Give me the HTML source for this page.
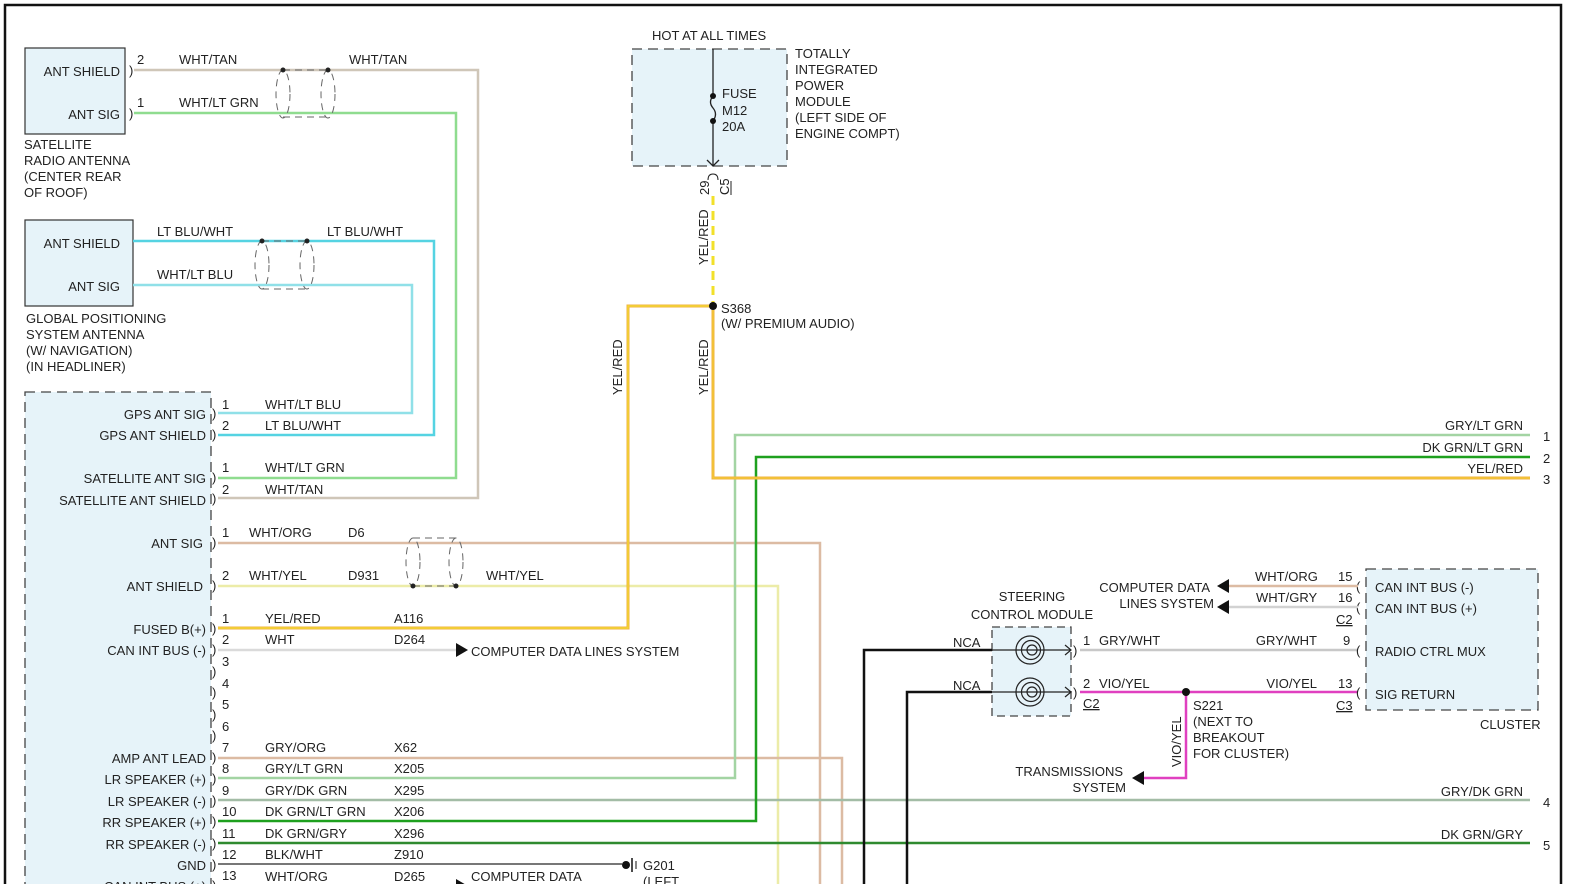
<!DOCTYPE html>
<html><head><meta charset="utf-8"><style>
html,body{margin:0;padding:0;background:#fff;}
svg{display:block;}
text{font-family:"Liberation Sans",Arial,sans-serif;font-size:13px;fill:#222;}
.r{text-anchor:end;}
</style></head><body>
<svg width="1569" height="884" viewBox="0 0 1569 884" xmlns="http://www.w3.org/2000/svg">
<rect x="5" y="5" width="1556" height="890" fill="#fff" stroke="#111" stroke-width="2.5"/>

<!-- Satellite antenna -->
<rect x="25" y="48" width="100" height="86" fill="#e6f3f9" stroke="#333" stroke-width="1.2"/>
<text class="r" x="120" y="76">ANT SHIELD</text>
<text class="r" x="120" y="119">ANT SIG</text>
<text x="129" y="75">)</text><text x="129" y="118">)</text>
<text x="137" y="64">2</text><text x="137" y="107">1</text>
<text x="24" y="149">SATELLITE</text><text x="24" y="165">RADIO ANTENNA</text><text x="24" y="181">(CENTER REAR</text><text x="24" y="197">OF ROOF)</text>
<polyline points="134,70 478,70 478,498 218,498" fill="none" stroke="#cfc6b8" stroke-width="2.5"/>
<polyline points="134,113 456,113 456,478 218,478" fill="none" stroke="#8fdc8f" stroke-width="2.5"/>
<text x="179" y="64">WHT/TAN</text><text x="349" y="64">WHT/TAN</text><text x="179" y="107">WHT/LT GRN</text>
<g fill="none" stroke="#666" stroke-dasharray="7,5">
<ellipse cx="283" cy="94" rx="7" ry="24"/><ellipse cx="328" cy="94" rx="7" ry="24"/>
<line x1="283" y1="70" x2="328" y2="70"/><line x1="283" y1="117" x2="328" y2="117"/>
</g>
<circle cx="283" cy="70" r="2.5" fill="#222"/><circle cx="328" cy="70" r="2.5" fill="#222"/>

<!-- GPS antenna -->
<rect x="25" y="220" width="108" height="86" fill="#e6f3f9" stroke="#333" stroke-width="1.2"/>
<text class="r" x="120" y="248">ANT SHIELD</text>
<text class="r" x="120" y="291">ANT SIG</text>
<text x="26" y="323">GLOBAL POSITIONING</text><text x="26" y="339">SYSTEM ANTENNA</text><text x="26" y="355">(W/ NAVIGATION)</text><text x="26" y="371">(IN HEADLINER)</text>
<polyline points="133,241 434,241 434,435 218,435" fill="none" stroke="#55d3e2" stroke-width="2.5"/>
<polyline points="133,285 412,285 412,413 218,413" fill="none" stroke="#90e0e8" stroke-width="2.5"/>
<text x="157" y="236">LT BLU/WHT</text><text x="327" y="236">LT BLU/WHT</text><text x="157" y="279">WHT/LT BLU</text>
<g fill="none" stroke="#666" stroke-dasharray="7,5">
<ellipse cx="262" cy="265" rx="7" ry="24"/><ellipse cx="307" cy="265" rx="7" ry="24"/>
<line x1="262" y1="241" x2="307" y2="241"/><line x1="262" y1="289" x2="307" y2="289"/>
</g>
<circle cx="262" cy="241" r="2.5" fill="#222"/><circle cx="307" cy="241" r="2.5" fill="#222"/>

<!-- Radio box -->
<rect x="25" y="392" width="186" height="520" fill="#e6f3f9" stroke="#444" stroke-width="1.3" stroke-dasharray="10,6"/>
<g>
<text class="r" x="206" y="419">GPS ANT SIG</text>
<text class="r" x="206" y="440">GPS ANT SHIELD</text>
<text class="r" x="206" y="483">SATELLITE ANT SIG</text>
<text class="r" x="206" y="505">SATELLITE ANT SHIELD</text>
<text class="r" x="203" y="548">ANT SIG</text>
<text class="r" x="203" y="591">ANT SHIELD</text>
<text class="r" x="206" y="634">FUSED B(+)</text>
<text class="r" x="206" y="655">CAN INT BUS (-)</text>
<text class="r" x="206" y="763">AMP ANT LEAD</text>
<text class="r" x="206" y="784">LR SPEAKER (+)</text>
<text class="r" x="206" y="806">LR SPEAKER (-)</text>
<text class="r" x="206" y="827">RR SPEAKER (+)</text>
<text class="r" x="206" y="849">RR SPEAKER (-)</text>
<text class="r" x="206" y="870">GND</text>
<text class="r" x="206" y="891">CAN INT BUS (+)</text>
</g>
<g>
<text x="212" y="418">)</text><text x="212" y="439">)</text><text x="212" y="482">)</text><text x="212" y="503">)</text>
<text x="212" y="547">)</text><text x="212" y="590">)</text><text x="212" y="633">)</text><text x="212" y="654">)</text>
<text x="212" y="676">)</text><text x="212" y="697">)</text><text x="212" y="719">)</text><text x="212" y="740">)</text>
<text x="212" y="762">)</text><text x="212" y="783">)</text><text x="212" y="805">)</text><text x="212" y="826">)</text>
<text x="212" y="848">)</text><text x="212" y="869">)</text><text x="212" y="890">)</text>
</g>
<g>
<text x="222" y="409">1</text><text x="222" y="430">2</text><text x="222" y="472">1</text><text x="222" y="494">2</text>
<text x="222" y="537">1</text><text x="222" y="580">2</text><text x="222" y="623">1</text><text x="222" y="644">2</text>
<text x="222" y="666">3</text><text x="222" y="688">4</text><text x="222" y="709">5</text><text x="222" y="731">6</text>
<text x="222" y="752">7</text><text x="222" y="773">8</text><text x="222" y="795">9</text><text x="222" y="816">10</text>
<text x="222" y="838">11</text><text x="222" y="859">12</text><text x="222" y="880">13</text>
</g>
<text x="265" y="409">WHT/LT BLU</text><text x="265" y="430">LT BLU/WHT</text>
<text x="265" y="472">WHT/LT GRN</text><text x="265" y="494">WHT/TAN</text>
<text x="249" y="537">WHT/ORG</text><text x="348" y="537">D6</text>
<text x="249" y="580">WHT/YEL</text><text x="348" y="580">D931</text><text x="486" y="580">WHT/YEL</text>
<text x="265" y="623">YEL/RED</text><text x="394" y="623">A116</text>
<text x="265" y="644">WHT</text><text x="394" y="644">D264</text>
<text x="265" y="752">GRY/ORG</text><text x="394" y="752">X62</text>
<text x="265" y="773">GRY/LT GRN</text><text x="394" y="773">X205</text>
<text x="265" y="795">GRY/DK GRN</text><text x="394" y="795">X295</text>
<text x="265" y="816">DK GRN/LT GRN</text><text x="394" y="816">X206</text>
<text x="265" y="838">DK GRN/GRY</text><text x="394" y="838">X296</text>
<text x="265" y="859">BLK/WHT</text><text x="394" y="859">Z910</text>
<text x="265" y="881">WHT/ORG</text><text x="394" y="881">D265</text>

<!-- radio wires -->
<polyline points="218,543 820,543 820,890" fill="none" stroke="#dcbba3" stroke-width="2.5"/>
<polyline points="218,586 778,586 778,890" fill="none" stroke="#ececa8" stroke-width="2.5"/>
<g fill="none" stroke="#666" stroke-dasharray="7,5">
<ellipse cx="413" cy="562" rx="7" ry="24"/><ellipse cx="456" cy="562" rx="7" ry="24"/>
<line x1="413" y1="538" x2="456" y2="538"/><line x1="413" y1="586" x2="456" y2="586"/>
</g>
<circle cx="413" cy="586" r="2.5" fill="#222"/><circle cx="456" cy="586" r="2.5" fill="#222"/>
<polyline points="218,628 628,628 628,306 713,306" fill="none" stroke="#f0b040" stroke-width="3"/>
<polyline points="218,628 628,628 628,306 713,306" fill="none" stroke="#f4dc30" stroke-width="1.2"/>
<line x1="218" y1="650" x2="456" y2="650" stroke="#dadada" stroke-width="2.5"/>
<polygon points="456,643 468,650 456,657" fill="#111"/>
<text x="471" y="656">COMPUTER DATA LINES SYSTEM</text>
<polyline points="218,758 842,758 842,890" fill="none" stroke="#dcbba3" stroke-width="2.5"/>
<polyline points="218,778 735,778 735,435 1530,435" fill="none" stroke="#a3d4a3" stroke-width="2.5"/>
<line x1="218" y1="800" x2="1530" y2="800" stroke="#a3bca6" stroke-width="2.5"/>
<polyline points="218,821 756,821 756,457 1530,457" fill="none" stroke="#1ea01e" stroke-width="2.5"/>
<line x1="218" y1="843" x2="1530" y2="843" stroke="#2f8a2f" stroke-width="2.5"/>
<line x1="218" y1="864" x2="622" y2="864" stroke="#777" stroke-width="2"/>
<circle cx="626" cy="865" r="4" fill="#111"/>
<line x1="632" y1="858" x2="632" y2="872" stroke="#111" stroke-width="1.5"/>
<line x1="636" y1="861" x2="636" y2="869" stroke="#111" stroke-width="1"/>
<text x="643" y="870">G201</text><text x="643" y="886">(LEFT</text>
<line x1="218" y1="886" x2="456" y2="886" stroke="#dcbba3" stroke-width="2.5"/>
<polygon points="456,879 468,886 456,893" fill="#111"/>
<text x="471" y="881">COMPUTER DATA</text>

<!-- TIPM -->
<text x="652" y="40">HOT AT ALL TIMES</text>
<rect x="632" y="49" width="155" height="117" fill="#e6f3f9" stroke="#444" stroke-width="1.3" stroke-dasharray="10,6"/>
<line x1="713" y1="49" x2="713" y2="96" stroke="#222" stroke-width="1.3"/>
<path d="M713,96 q-5,6 0,12 q5,6 0,13" fill="none" stroke="#222" stroke-width="1.3"/>
<line x1="713" y1="121" x2="713" y2="166" stroke="#222" stroke-width="1.3"/>
<polyline points="707,160 713,166 719,160" fill="none" stroke="#222" stroke-width="1.3"/>
<circle cx="713" cy="96" r="3" fill="#111"/><circle cx="713" cy="121" r="3" fill="#111"/>
<text x="722" y="98">FUSE</text><text x="722" y="115">M12</text><text x="722" y="131">20A</text>
<text x="795" y="58">TOTALLY</text><text x="795" y="74">INTEGRATED</text><text x="795" y="90">POWER</text><text x="795" y="106">MODULE</text><text x="795" y="122">(LEFT SIDE OF</text><text x="795" y="138">ENGINE COMPT)</text>
<path d="M708,180 q0,-6 5,-6 q5,0 5,6" fill="none" stroke="#222" stroke-width="1"/>
<text transform="translate(709,195) rotate(-90)">29</text>
<text transform="translate(729,195) rotate(-90)">C5</text>
<line x1="731" y1="181" x2="731" y2="195" stroke="#222" stroke-width="1"/>
<line x1="713" y1="196" x2="713" y2="303" stroke="#f2e02a" stroke-width="3" stroke-dasharray="9,6"/>
<text transform="translate(708,265) rotate(-90)">YEL/RED</text>
<circle cx="713" cy="306" r="4" fill="#111"/>
<text x="721" y="313">S368</text><text x="721" y="328">(W/ PREMIUM AUDIO)</text>
<polyline points="713,310 713,478 1530,478" fill="none" stroke="#f0b040" stroke-width="3"/>
<polyline points="713,310 713,478 1530,478" fill="none" stroke="#f4d030" stroke-width="1"/>
<text transform="translate(708,395) rotate(-90)">YEL/RED</text>
<text transform="translate(622,395) rotate(-90)">YEL/RED</text>

<!-- right labels -->
<text class="r" x="1523" y="430">GRY/LT GRN</text><text x="1543" y="441">1</text>
<text class="r" x="1523" y="452">DK GRN/LT GRN</text><text x="1543" y="463">2</text>
<text class="r" x="1523" y="473">YEL/RED</text><text x="1543" y="484">3</text>
<text class="r" x="1523" y="796">GRY/DK GRN</text><text x="1543" y="807">4</text>
<text class="r" x="1523" y="839">DK GRN/GRY</text><text x="1543" y="850">5</text>

<!-- Steering control module -->
<text x="1032" y="601" text-anchor="middle">STEERING</text>
<text x="1032" y="619" text-anchor="middle">CONTROL MODULE</text>
<rect x="992" y="627" width="79" height="89" fill="#e6f3f9" stroke="#444" stroke-width="1.3" stroke-dasharray="8,5"/>
<polyline points="864,890 864,650 992,650" fill="none" stroke="#111" stroke-width="2.5"/>
<polyline points="907,890 907,692 992,692" fill="none" stroke="#111" stroke-width="2.5"/>
<text x="953" y="647">NCA</text><text x="953" y="690">NCA</text>
<g fill="none" stroke="#222" stroke-width="1.2">
<line x1="992" y1="650" x2="1030" y2="650"/><line x1="1030" y1="650" x2="1071" y2="650"/>
<circle cx="1030" cy="650" r="14"/><circle cx="1031" cy="650" r="9.5"/><circle cx="1032" cy="650" r="5"/>
<line x1="992" y1="692" x2="1030" y2="692"/><line x1="1030" y1="692" x2="1071" y2="692"/>
<circle cx="1030" cy="692" r="14"/><circle cx="1031" cy="692" r="9.5"/><circle cx="1032" cy="692" r="5"/>
<polyline points="1065,645 1071,650 1065,655"/><polyline points="1065,687 1071,692 1065,697"/>
</g>
<text x="1073" y="655">)</text><text x="1073" y="697">)</text>
<text x="1083" y="645">1</text><text x="1099" y="645">GRY/WHT</text>
<text x="1083" y="688">2</text><text x="1099" y="688">VIO/YEL</text>
<text x="1083" y="708" text-decoration="underline">C2</text>
<line x1="1080" y1="650" x2="1358" y2="650" stroke="#c8c8c8" stroke-width="2.5"/>
<line x1="1080" y1="692" x2="1358" y2="692" stroke="#e040c0" stroke-width="2.5"/>
<polyline points="1186,692 1186,778 1144,778" fill="none" stroke="#e040c0" stroke-width="2.5"/>
<polygon points="1144,771 1132,778 1144,785" fill="#111"/>
<circle cx="1186" cy="692" r="4" fill="#111"/>
<text x="1193" y="710">S221</text><text x="1193" y="726">(NEXT TO</text><text x="1193" y="742">BREAKOUT</text><text x="1193" y="758">FOR CLUSTER)</text>
<text transform="translate(1181,767) rotate(-90)">VIO/YEL</text>
<text class="r" x="1123" y="776">TRANSMISSIONS</text><text class="r" x="1126" y="792">SYSTEM</text>
<text class="r" x="1317" y="645">GRY/WHT</text><text x="1343" y="645">9</text>
<text class="r" x="1317" y="688">VIO/YEL</text><text x="1338" y="688">13</text>
<text x="1336" y="710" text-decoration="underline">C3</text>

<!-- Cluster -->
<rect x="1366" y="569" width="172" height="141" fill="#e6f3f9" stroke="#444" stroke-width="1.3" stroke-dasharray="10,6"/>
<text x="1375" y="592">CAN INT BUS (-)</text><text x="1375" y="613">CAN INT BUS (+)</text>
<text x="1375" y="656">RADIO CTRL MUX</text><text x="1375" y="699">SIG RETURN</text>
<text x="1480" y="729">CLUSTER</text>
<text x="1356" y="591">(</text><text x="1356" y="612">(</text><text x="1356" y="655">(</text><text x="1356" y="697">(</text>
<line x1="1229" y1="586" x2="1358" y2="586" stroke="#dcbba3" stroke-width="2.5"/>
<line x1="1229" y1="607" x2="1358" y2="607" stroke="#d2d2d2" stroke-width="2.5"/>
<polygon points="1229,579 1217,586 1229,593" fill="#111"/>
<polygon points="1229,600 1217,607 1229,614" fill="#111"/>
<text x="1255" y="581">WHT/ORG</text><text x="1338" y="581">15</text>
<text x="1256" y="602">WHT/GRY</text><text x="1338" y="602">16</text>
<text x="1336" y="624" text-decoration="underline">C2</text>
<text class="r" x="1210" y="592">COMPUTER DATA</text><text class="r" x="1214" y="608">LINES SYSTEM</text>
</svg>
</body></html>
